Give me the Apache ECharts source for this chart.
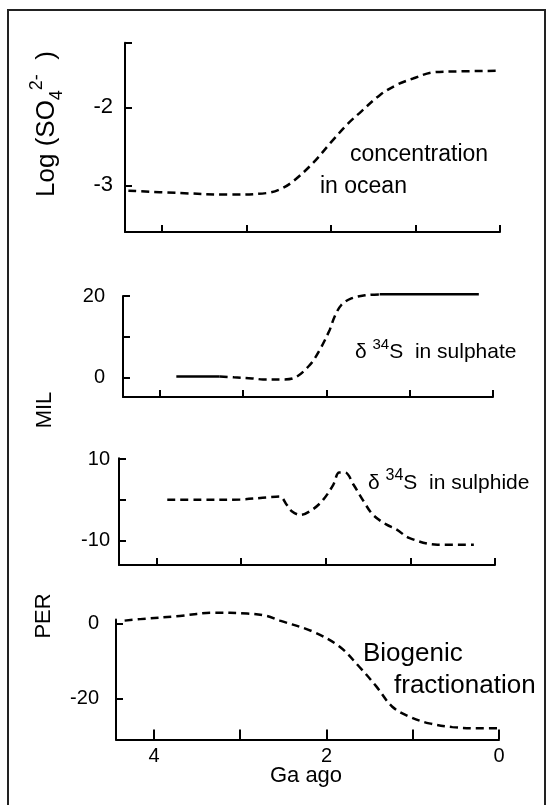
<!DOCTYPE html>
<html>
<head>
<meta charset="utf-8">
<script src="https://cdn.jsdelivr.net/npm/echarts@6/dist/echarts.min.js"></script>
<style>
  html, body { margin: 0; padding: 0; background: #fff; }
  #chart { width: 548px; height: 805px; }
</style>
</head>
<body>
<div id="chart"></div>
<script>
// ---- data (x = Ga ago) ----
// sulphate concentration in ocean, log(SO4 2-)
var concAge = [4.40, 3.79, 3.20, 2.76, 2.60, 2.45, 2.21, 2.01, 1.81, 1.66, 1.42, 1.22, 1.03, 0.79, 0.55, 0.04];
var concLog = [-3.07, -3.10, -3.12, -3.10, -3.05, -2.95, -2.71, -2.46, -2.22, -2.07, -1.84, -1.71, -1.63, -1.55, -1.54, -1.53];

// d34S in sulphate: solid / dashed / solid pieces
var sulphateAgeA = [3.80, 3.28];
var sulphateValA = [0.3, 0.3];
var sulphateAgeB = [3.28, 3.11, 2.89, 2.76, 2.52, 2.40, 2.20, 2.08, 1.96, 1.90, 1.82, 1.70, 1.52, 1.36];
var sulphateValB = [0.3, 0.1, -0.15, -0.4, -0.4, -0.15, 3.1, 6.8, 11.7, 15.0, 17.8, 19.4, 20.2, 20.4];
var sulphateAgeC = [1.36, 0.17];
var sulphateValC = [20.4, 20.4];

// d34S in sulphide
var sulphideAge = [3.87, 3.48, 3.01, 2.69, 2.54, 2.46, 2.40, 2.30, 2.15, 2.03, 1.91, 1.84, 1.77, 1.67, 1.55, 1.44, 1.28, 1.16, 1.02, 0.68, 0.25];
var sulphideVal = [0, 0, 0.1, 0.6, 0.8, -1.2, -2.8, -3.7, -2.3, 0, 3.7, 6.7, 6.7, 3.7, -0.4, -3.7, -6.1, -7.3, -9.3, -11, -11];

// biogenic fractionation
var bioAge = [4.34, 4.16, 3.70, 3.32, 2.92, 2.69, 2.54, 2.16, 1.85, 1.62, 1.42, 1.24, 1.04, 0.81, 0.54, 0.23, 0.01];
var bioVal = [0.7, 1.1, 1.95, 2.8, 2.6, 1.95, 0.7, -2.2, -6.2, -11.6, -16.9, -22.2, -24.9, -26.7, -27.7, -28, -28];

// ticks
var xTicks = [0, 1, 2, 3, 4];
var xLabels = [0, 2, 4];
var yTicks1 = [-3, -2, -1.17], yLabels1 = [-3, -2];
var yTicks2 = [0, 10, 20], yLabels2 = [0, 20];
var yTicks3 = [-10, 0, 10.2], yLabels3 = [-10, 10];
var yTicks4 = [-20, 0], yLabels4 = [-20, 0];

var FONT = '"Liberation Sans", Arial, sans-serif';

function pair(xs, ys) {
	return xs.map(function (x, i) { return [x, ys[i]]; });
}

function makeX(i) {
	return {
		type: 'value', gridIndex: i, min: 0, max: 4.44, inverse: true,
		axisLine: { show: true, onZero: false, lineStyle: { color: '#000', width: 2 } },
		axisTick: { show: true, inside: true, length: i === 3 ? 10 : 7, customValues: xTicks,
			lineStyle: { color: '#000', width: 2 } },
		axisLabel: { show: i === 3, customValues: xLabels, margin: 7, color: '#000',
			fontSize: 20, fontFamily: FONT },
		splitLine: { show: false }
	};
}

function makeY(i, min, max, ticks, labels, margin, size) {
	return {
		type: 'value', gridIndex: i, min: min, max: max,
		axisLine: { show: true, onZero: false, lineStyle: { color: '#000', width: 2 } },
		axisTick: { show: true, inside: true, length: 7, customValues: ticks,
			lineStyle: { color: '#000', width: 2 } },
		axisLabel: { show: true, customValues: labels, margin: margin, color: '#000',
			fontSize: size, fontFamily: FONT },
		splitLine: { show: false }
	};
}

var dashed = { color: '#000', width: 2.5, type: [8, 5] };
var solid = { color: '#000', width: 2.5, type: 'solid' };

function line(i, data, style) {
	return {
		type: 'line', xAxisIndex: i, yAxisIndex: i, data: data,
		smooth: 0.35, showSymbol: false, clip: false,
		lineStyle: style, emphasis: { disabled: true }
	};
}

function label(x, y, text, rich, opts) {
	opts = opts || {};
	return {
		type: 'text', x: x, y: y, rotation: opts.rotation || 0,
		style: {
			text: text, rich: rich, fill: '#000', font: (opts.size || 22) + 'px ' + FONT,
			align: opts.align || 'left', verticalAlign: 'middle'
		}
	};
}

var chart = echarts.init(document.getElementById('chart'));
chart.setOption({
	animation: false,
	backgroundColor: '#fff',
	grid: [
		{ left: 125, top: 42.7, width: 375, height: 189.3 },
		{ left: 123, top: 296, width: 370, height: 101 },
		{ left: 119, top: 458.3, width: 376, height: 106.7 },
		{ left: 116, top: 619.5, width: 383, height: 120 }
	],
	xAxis: [makeX(0), makeX(1), makeX(2), makeX(3)],
	yAxis: [
		makeY(0, -3.6, -1.17, yTicks1, yLabels1, 12, 22),
		makeY(1, -4.7, 20, yTicks2, yLabels2, 18, 20),
		makeY(2, -16, 10.2, yTicks3, yLabels3, 9, 20),
		makeY(3, -31, 1, yTicks4, yLabels4, 17, 20)
	],
	series: [
		line(0, pair(concAge, concLog), dashed),
		line(1, pair(sulphateAgeA, sulphateValA), solid),
		line(1, pair(sulphateAgeB, sulphateValB), dashed),
		line(1, pair(sulphateAgeC, sulphateValC), solid),
		line(2, pair(sulphideAge, sulphideVal), dashed),
		line(3, pair(bioAge, bioVal), dashed)
	],
	graphic: [
		{ type: 'rect', shape: { x: 8, y: 10, width: 537, height: 800 },
			style: { fill: 'none', stroke: '#222', lineWidth: 2 } },
		label(47, 124, '{n|Log (SO}{sub|4}{sup|2-}{n|  )}', {
			n: { fontSize: 26, fontFamily: FONT, lineHeight: 38 },
			sub: { fontSize: 18, fontFamily: FONT, verticalAlign: 'bottom', lineHeight: 38 },
			sup: { fontSize: 18, fontFamily: FONT, verticalAlign: 'top', lineHeight: 38 }
		}, { rotation: Math.PI / 2, align: 'center' }),
		label(45, 410, 'MIL', null, { rotation: Math.PI / 2, align: 'center' }),
		label(44, 616, 'PER', null, { rotation: Math.PI / 2, align: 'center' }),
		label(306, 776, 'Ga ago', null, { align: 'center' }),
		label(350, 155, 'concentration', null, { size: 23 }),
		label(320, 187, 'in ocean', null, { size: 23 }),
		label(355, 352, '{n|δ }{sup|34}{n|S  in sulphate}', {
			n: { fontSize: 21, fontFamily: FONT, lineHeight: 30 },
			sup: { fontSize: 15, fontFamily: FONT, verticalAlign: 'top', lineHeight: 30 }
		}),
		label(368, 483, '{n|δ }{sup|34}{n|S  in sulphide}', {
			n: { fontSize: 21, fontFamily: FONT, lineHeight: 30 },
			sup: { fontSize: 16, fontFamily: FONT, verticalAlign: 'top', lineHeight: 30 }
		}),
		label(363, 654, 'Biogenic', null, { size: 26 }),
		label(394, 686, 'fractionation', null, { size: 26 })
	]
});
</script>
</body>
</html>
